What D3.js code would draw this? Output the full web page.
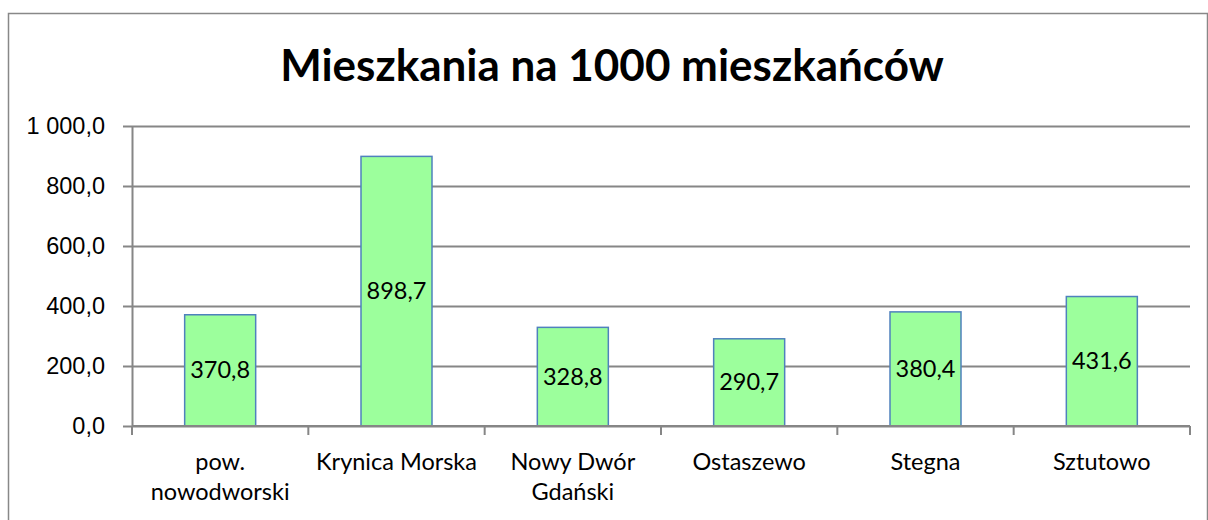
<!DOCTYPE html>
<html>
<head>
<meta charset="utf-8">
<script src="https://cdn.jsdelivr.net/npm/d3@7"></script>
<style>
  body { margin: 0; background: #fff; }
  svg { display: block; font-family: Lato, "Open Sans", sans-serif; }
</style>
</head>
<body>
<div id="chart"></div>
<script>
const WIDTH = 1208, HEIGHT = 520;
const TITLE = "Mieszkania na 1000 mieszkańców";
const categories = [["pow.", "nowodworski"], ["Krynica Morska"], ["Nowy Dwór", "Gdański"], ["Ostaszewo"], ["Stegna"], ["Sztutowo"]];
const values = [370.8, 898.7, 328.8, 290.7, 380.4, 431.6];
const yTicks = [0, 200, 400, 600, 800, 1000];

const M = { left: 132, right: 1190, top: 126, bottom: 426 };
const GRID = "#868686";
const FS = "23.5px";

const fmt = v => {
    const s = v.toFixed(1).replace(".", ",");
    const [a, b] = s.split(",");
    return a.replace(/\B(?=(\d{3})+(?!\d))/g, " ") + "," + b;
};

const svg = d3.select("#chart").append("svg")
    .attr("width", WIDTH)
    .attr("height", HEIGHT);

// outer frame
svg.append("rect")
    .attr("x", 8.5).attr("y", 13.5)
    .attr("width", WIDTH - 9).attr("height", HEIGHT)
    .attr("fill", "none").attr("stroke", "#888").attr("stroke-width", 1.5);

svg.append("text")
    .attr("x", 612).attr("y", 81)
    .attr("text-anchor", "middle")
    .style("font-size", "44px").style("font-weight", "bold")
    .text(TITLE);

const xOuter = d3.scaleBand()
    .domain(d3.range(categories.length))
    .range([M.left, M.right]);
const y = d3.scaleLinear().domain([0, 1000]).range([M.bottom, M.top]);

// gridlines + y axis
const yAxis = svg.append("g")
    .attr("transform", `translate(${M.left},0)`)
    .call(d3.axisLeft(y).tickValues(yTicks).tickFormat(fmt)
        .tickSize(-(M.right - M.left)).tickSizeOuter(0).tickPadding(27));
yAxis.select(".domain").attr("stroke", GRID).attr("stroke-width", 2);
yAxis.selectAll(".tick line").attr("stroke", GRID).attr("stroke-width", 2).attr("x1", -9);
yAxis.selectAll(".tick text").style("font-size", FS).attr("fill", "#000");

// bars
const bars = svg.append("g").selectAll("g").data(values).join("g");
bars.append("rect")
    .attr("x", (d, i) => xOuter(i) + xOuter.bandwidth() / 2 - 35.5)
    .attr("width", 71)
    .attr("y", d => y(d))
    .attr("height", d => y(0) - y(d))
    .attr("fill", "#9cff9c")
    .attr("stroke", "#4f81bd").attr("stroke-width", 1.5);
bars.append("text")
    .attr("x", (d, i) => xOuter(i) + xOuter.bandwidth() / 2)
    .attr("y", d => (y(d) + y(0)) / 2 + 8)
    .attr("text-anchor", "middle")
    .style("font-size", FS)
    .text(fmt);

// x axis
const xAxis = svg.append("g").attr("transform", `translate(0,${M.bottom})`);
xAxis.append("line")
    .attr("x1", M.left).attr("x2", M.right)
    .attr("stroke", GRID).attr("stroke-width", 2);
xAxis.selectAll("line.tk")
    .data(d3.range(categories.length + 1))
    .join("line").attr("class", "tk")
    .attr("x1", i => M.left + i * xOuter.bandwidth())
    .attr("x2", i => M.left + i * xOuter.bandwidth())
    .attr("y1", 0).attr("y2", 9)
    .attr("stroke", GRID).attr("stroke-width", 2);
xAxis.selectAll("text.cat")
    .data(categories)
    .join("text").attr("class", "cat")
    .attr("x", (d, i) => xOuter(i) + xOuter.bandwidth() / 2)
    .attr("y", 44)
    .attr("text-anchor", "middle")
    .style("font-size", FS)
    .each(function (d) {
        const t = d3.select(this);
        const cx = t.attr("x");
        d.forEach((line, j) => t.append("tspan").attr("x", cx).attr("dy", j ? 30 : 0).text(line));
    });
</script>
</body>
</html>
